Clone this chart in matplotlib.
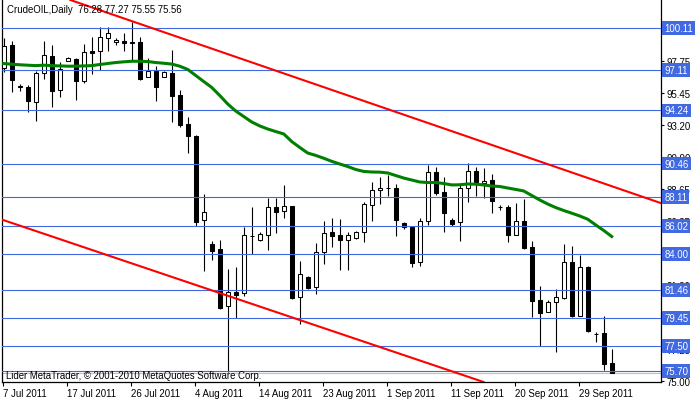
import numpy as np
import matplotlib
matplotlib.use('Agg')
import matplotlib.pyplot as plt

plt.rcParams['font.family'] = ['Liberation Sans', 'DejaVu Sans']

# daily bars, 7 Jul 2011 .. 4 Oct 2011 (broker has Sunday bars)
opens = [97.23, 98.90, 95.95, 95.89, 94.87, 96.89, 98.10, 95.72, 97.74, 97.90,
         96.36, 98.45, 98.45, 99.38, 99.08, 99.16, 99.10, 99.09, 96.60, 97.07,
         96.60, 96.91, 95.34, 93.28, 92.42, 86.44, 84.74, 84.38, 80.30, 81.34,
         81.23, 85.30, 85.04, 85.40, 87.35, 87.07, 87.42, 80.94, 82.36, 81.65,
         84.14, 85.57, 85.38, 85.04, 85.14, 85.57, 87.53, 88.58, 88.70, 88.72,
         86.21, 85.97, 83.43, 86.40, 89.84, 88.42, 86.44, 86.28, 88.72, 89.91,
         89.08, 89.29, 87.34, 87.35, 85.40, 86.40, 84.50, 80.75, 79.87, 80.59,
         80.89, 83.43, 79.63, 83.08, 78.35, 78.40, 76.28]
highs = [99.40, 99.16, 96.12, 96.05, 97.07, 99.16, 98.90, 97.67, 98.07, 97.95,
         98.97, 99.45, 100.16, 100.16, 99.38, 99.75, 100.52, 99.45, 97.95, 97.43,
         97.07, 98.54, 95.70, 93.75, 92.52, 88.30, 84.97, 85.02, 82.96, 83.08,
         85.93, 87.35, 85.57, 88.01, 87.99, 88.94, 87.45, 83.55, 82.48, 84.78,
         86.35, 86.59, 86.52, 85.57, 85.68, 87.70, 89.17, 89.48, 89.67, 89.01,
         86.28, 86.02, 86.59, 90.36, 90.20, 89.48, 86.59, 89.06, 90.50, 90.20,
         90.15, 89.72, 87.53, 87.51, 87.63, 87.94, 84.93, 81.73, 80.77, 81.53,
         84.74, 84.57, 83.97, 83.15, 78.49, 79.59, 77.27]
lows = [96.98, 95.58, 95.65, 94.11, 93.51, 96.48, 94.51, 95.18, 97.74, 95.01,
        96.20, 96.84, 97.12, 98.45, 98.90, 98.49, 97.78, 96.43, 96.60, 94.94,
        96.60, 93.40, 93.04, 91.19, 86.04, 82.84, 83.62, 80.11, 75.61, 79.47,
        81.06, 84.03, 84.97, 84.33, 85.52, 86.59, 80.82, 79.04, 81.51, 81.18,
        83.31, 84.50, 82.89, 82.89, 85.09, 84.88, 86.40, 87.58, 88.17, 85.33,
        85.80, 83.12, 83.19, 86.11, 88.22, 85.61, 86.02, 84.97, 87.75, 88.17,
        87.99, 86.94, 87.15, 84.90, 85.40, 84.38, 79.56, 77.46, 79.87, 77.07,
        80.82, 79.52, 79.63, 78.45, 77.74, 75.77, 75.55]
closes = [98.83, 96.43, 95.91, 94.94, 96.89, 98.17, 95.65, 97.19, 97.95, 96.36,
          98.38, 98.33, 99.45, 99.73, 99.26, 99.02, 99.06, 96.48, 97.03, 95.89,
          96.96, 95.29, 93.23, 92.44, 86.28, 86.99, 84.26, 80.18, 81.30, 81.13,
          85.38, 85.32, 85.45, 87.35, 87.04, 87.42, 80.89, 82.60, 81.60, 84.14,
          85.50, 85.33, 85.04, 85.38, 85.57, 87.58, 88.58, 88.72, 88.74, 86.47,
          85.97, 83.36, 86.40, 89.84, 88.37, 86.96, 86.16, 88.72, 89.91, 89.13,
          89.24, 87.82, 87.36, 85.40, 86.40, 84.45, 80.70, 79.83, 80.59, 80.94,
          83.43, 79.59, 83.08, 78.57, 78.31, 76.20, 75.56]

# moving average (green), one value per bar
ma = [97.58, 97.53, 97.49, 97.46, 97.43, 97.46, 97.43, 97.41, 97.39, 97.39,
      97.41, 97.43, 97.51, 97.58, 97.65, 97.70, 97.74, 97.74, 97.72, 97.65,
      97.60, 97.54, 97.39, 97.16, 96.73, 96.30, 95.88, 95.31, 94.70, 94.20,
      93.81, 93.42, 93.14, 92.92, 92.74, 92.57, 92.03, 91.61, 91.21, 91.04,
      90.84, 90.62, 90.43, 90.25, 90.04, 89.90, 89.86, 89.85, 89.79, 89.61,
      89.43, 89.29, 89.15, 89.11, 89.11, 89.04, 88.94, 88.95, 89.01, 88.99,
      88.94, 88.86, 88.83, 88.72, 88.62, 88.51, 88.19, 87.87, 87.58, 87.33,
      87.12, 86.93, 86.73, 86.50, 86.09, 85.70, 85.27]

hlines = [100.11, 97.11, 94.24, 90.46, 88.11, 86.02, 84.00, 81.46, 79.45, 77.50, 75.70]
bid = 75.56
upper_trend = [(9, 101.97), (76, 88.85)]
lower_trend = [(0, 86.43), (56, 75.68)]

# scale labels (the ones fully covered by the line boxes are left out)
yticks = [97.75, 95.45, 93.20, 90.90, 88.65, 86.35, 81.80, 77.25, 75.00]
xtick_idx = [0, 8, 16, 24, 32, 40, 48, 56, 64, 72]
xtick_labels = ['7 Jul 2011', '17 Jul 2011', '26 Jul 2011', '4 Aug 2011', '14 Aug 2011',
                '23 Aug 2011', '1 Sep 2011', '11 Sep 2011', '20 Sep 2011', '29 Sep 2011']

blue = '#4169E1'
fs = 6.9

fig = plt.figure(figsize=(7, 4.02), dpi=100)
ax = fig.add_axes([2/700, 19/402, 659/700, 382/402])
ax.set_xlim(-0.21, 82.16)
ax.set_ylim(74.915, 102.10)

x = np.arange(len(opens))
o = np.array(opens); h = np.array(highs); l = np.array(lows); c = np.array(closes)

ax.axhline(bid, color='#C0C0C0', lw=0.8, zorder=1)

# wicks then bodies
ax.vlines(x, l, h, color='black', lw=0.8, zorder=2)
up = c >= o
ax.bar(x[up], c[up] - o[up], bottom=o[up], width=0.5, facecolor='white',
       edgecolor='black', linewidth=0.75, zorder=3)
ax.bar(x[~up], o[~up] - c[~up], bottom=c[~up], width=0.5, facecolor='black',
       edgecolor='black', linewidth=0.75, zorder=3)

for lev in hlines:
    ax.axhline(lev, color=blue, lw=0.8, zorder=4)

ax.plot(x, ma, color='#008000', lw=2.2, zorder=5)
ax.axline(upper_trend[0], upper_trend[1], color='red', lw=1.5, zorder=6)
ax.axline(lower_trend[0], lower_trend[1], color='red', lw=1.5, zorder=6)

# axes frame
for s in ['left', 'bottom', 'right']:
    ax.spines[s].set_linewidth(0.9)
ax.spines['top'].set_visible(False)

ax.yaxis.tick_right()
ax.set_yticks(yticks)
ax.set_yticklabels([f'{v:.2f}' for v in yticks], fontsize=fs)
ax.tick_params(axis='y', length=2.2, width=0.8, pad=1.5)

ax.set_xticks(np.array(xtick_idx) - 0.1)
ax.set_xticklabels(xtick_labels, fontsize=fs, ha='left')
ax.tick_params(axis='x', length=3, width=0.8, pad=1.5)

for lev in hlines:
    ax.annotate(f'{lev:.2f}', xy=(1, lev), xycoords=('axes fraction', 'data'),
                xytext=(2.4, 0), textcoords='offset points', ha='left', va='center',
                fontsize=fs, color='white', annotation_clip=False, zorder=10,
                bbox=dict(boxstyle='square,pad=0.2', fc=blue, ec='none'))

fig.text(7/700, 1 - 10/402, 'CrudeOIL,Daily  76.28 77.27 75.55 75.56',
         fontsize=fs, va='center', ha='left', zorder=1)
fig.text(6/700, 1 - 376.5/402, 'Lider MetaTrader, \u00a9 2001-2010 MetaQuotes Software Corp.',
         fontsize=fs, va='center', ha='left')

fig.savefig('out.png', dpi=100)
